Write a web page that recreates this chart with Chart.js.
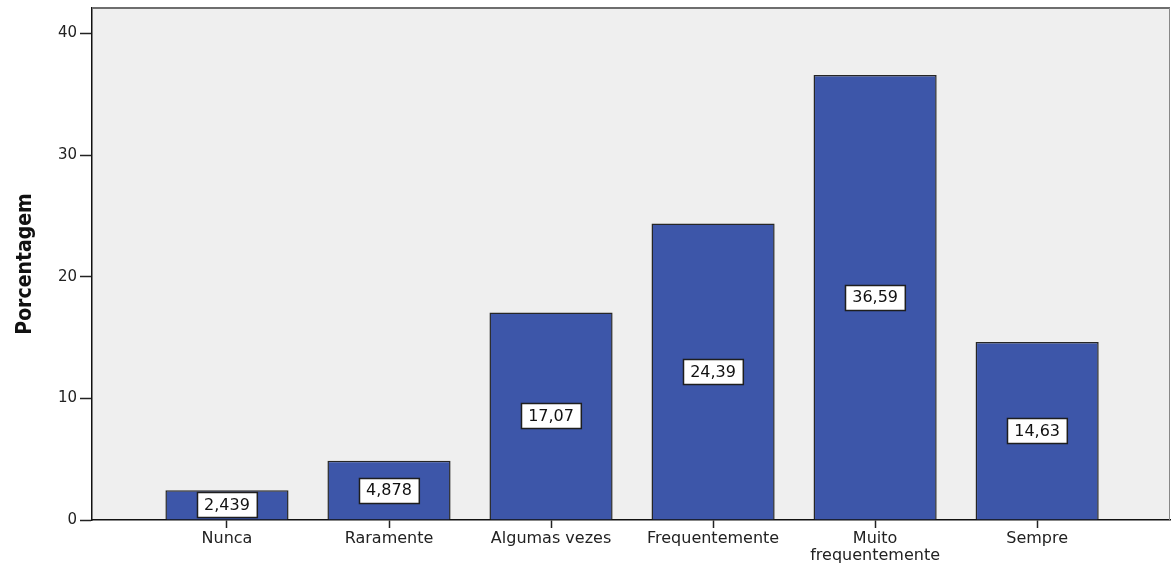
<!DOCTYPE html>
<html>
<head>
<meta charset="utf-8">
<script src="https://cdn.jsdelivr.net/npm/chart.js@4.4.1/dist/chart.umd.min.js"></script>
<style>
  html, body { margin: 0; padding: 0; background: #ffffff; }
  #wrap { width: 1171px; height: 567px; position: relative; }
</style>
</head>
<body>
<div id="wrap"><canvas id="c"></canvas></div>
<script>
// ---- data ----
const categories = ['Nunca', 'Raramente', 'Algumas vezes', 'Frequentemente', ['Muito', 'frequentemente'], 'Sempre'];
const percentages = [2.439, 4.878, 17.07, 24.39, 36.59, 14.63];
const valueLabels = ['2,439', '4,878', '17,07', '24,39', '36,59', '14,63'];
const yTickValues = [0, 10, 20, 30, 40];
const yAxisTitle = 'Porcentagem';

const points = percentages.map((v, i) => ({ x: i, y: v }));

const plotFrame = {
  id: 'plotFrame',
  beforeDraw(chart) {
    const { ctx, chartArea: a } = chart;
    ctx.save();
    ctx.fillStyle = '#efefef';
    ctx.fillRect(a.left, a.top, a.right - a.left, a.bottom - a.top);
    ctx.restore();
  },
  afterDraw(chart) {
    const { ctx, chartArea: a } = chart;
    ctx.save();
    ctx.strokeStyle = '#6e6e6e';
    ctx.lineWidth = 2;
    ctx.beginPath();
    ctx.moveTo(a.left, a.top);
    ctx.lineTo(a.right, a.top);
    ctx.stroke();
    ctx.lineWidth = 1;
    ctx.strokeStyle = '#888888';
    ctx.beginPath();
    ctx.moveTo(a.right - 0.5, a.top);
    ctx.lineTo(a.right - 0.5, a.bottom);
    ctx.stroke();
    ctx.restore();
  }
};

const boxLabels = {
  id: 'boxLabels',
  afterDatasetsDraw(chart) {
    const { ctx } = chart;
    const meta = chart.getDatasetMeta(0);
    ctx.save();
    ctx.font = '16px "DejaVu Sans", sans-serif';
    ctx.textAlign = 'center';
    ctx.textBaseline = 'middle';
    meta.data.forEach((bar, i) => {
      const txt = valueLabels[i];
      const cx = bar.x;
      const cy = (bar.y + bar.base) / 2;
      const w = ctx.measureText(txt).width + 14;
      const h = 25;
      const x0 = Math.round(cx - w / 2) + 0.5;
      const y0 = Math.round(cy - h / 2) + 0.5;
      ctx.fillStyle = '#ffffff';
      ctx.fillRect(x0, y0, w, h);
      ctx.strokeStyle = '#1e1e1e';
      ctx.lineWidth = 1.5;
      ctx.strokeRect(x0, y0, w, h);
      ctx.fillStyle = '#111111';
      ctx.fillText(txt, cx, cy + 1);
    });
    ctx.restore();
  }
};

new Chart(document.getElementById('c'), {
  type: 'bar',
  data: {
    datasets: [{
      data: points,
      backgroundColor: '#3d56a9',
      borderColor: '#262626',
      borderWidth: 1.5,
      categoryPercentage: 1,
      barPercentage: 0.76
    }]
  },
  options: {
    responsive: true,
    maintainAspectRatio: false,
    animation: false,
    layout: { padding: { top: 8, right: 1, left: 0, bottom: 0 } },
    plugins: {
      legend: { display: false },
      tooltip: { enabled: false }
    },
    scales: {
      x: {
        type: 'linear',
        offset: false,
        min: -0.833,
        max: 5.82,
        afterBuildTicks(axis) {
          axis.ticks = categories.map((_, i) => ({ value: i }));
        },
        afterFit(axis) { axis.height = 47; axis.paddingLeft = 0; axis.paddingRight = 0; },
        border: { display: true, color: '#111111', width: 1.5 },
        grid: { offset: false, drawOnChartArea: false, drawTicks: true, tickLength: 8, tickColor: '#222222', tickWidth: 1.5 },
        ticks: {
          autoSkip: false,
          maxRotation: 0,
          minRotation: 0,
          padding: 3,
          color: '#222222',
          font: { family: '"DejaVu Sans", sans-serif', size: 16, lineHeight: 1.02 },
          callback: (v) => categories[v]
        }
      },
      y: {
        min: 0,
        max: 42.1,
        afterBuildTicks(axis) {
          axis.ticks = yTickValues.map(v => ({ value: v }));
        },
        afterFit(axis) { axis.width = 92; axis.paddingTop = 0; axis.paddingBottom = 0; },
        border: { display: true, color: '#111111', width: 1.5 },
        grid: { drawOnChartArea: false, drawTicks: true, tickLength: 12, tickColor: '#222222', tickWidth: 1.5 },
        ticks: {
          padding: 3,
          color: '#222222',
          font: { family: '"DejaVu Sans", sans-serif', size: 15 },
          callback: (v) => String(v)
        },
        title: {
          display: true,
          text: yAxisTitle,
          color: '#111111',
          padding: { top: 13, bottom: 0 },
          font: { family: '"DejaVu Sans Condensed", "DejaVu Sans", sans-serif', size: 21, weight: 'bold' }
        }
      }
    }
  },
  plugins: [plotFrame, boxLabels]
});
</script>
</body>
</html>
